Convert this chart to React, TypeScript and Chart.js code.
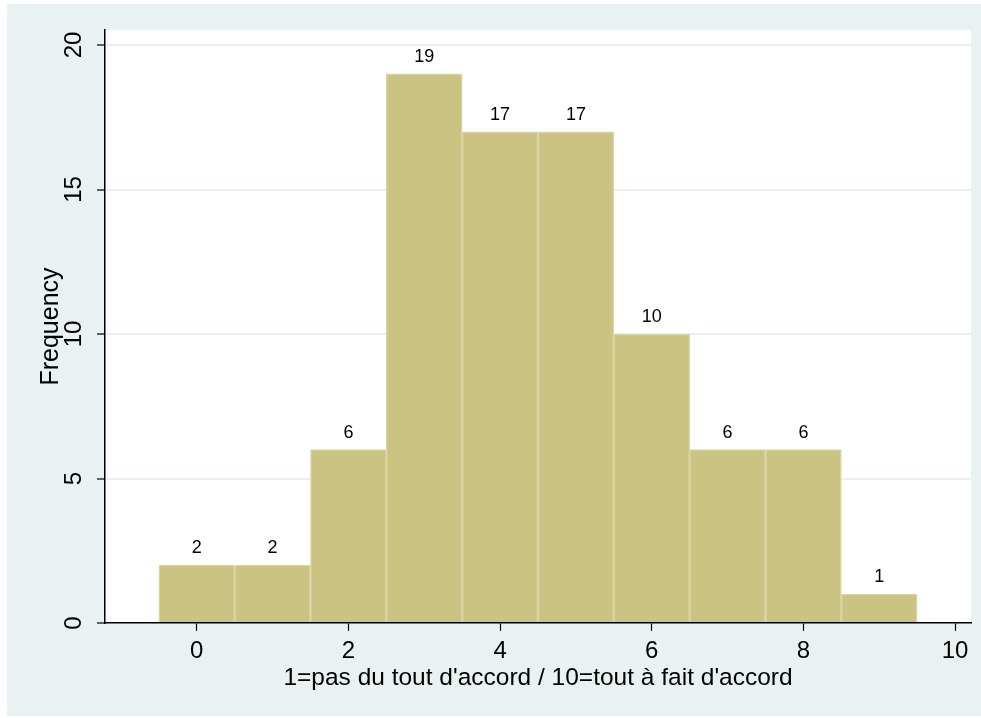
import React, { useEffect, useRef } from "react";
import { Chart, registerables } from "chart.js";

Chart.register(...registerables);

const binCenters = [0, 1, 2, 3, 4, 5, 6, 7, 8, 9];
const frequencies = [2, 2, 6, 19, 17, 17, 10, 6, 6, 1];
const xTickValues = [0, 2, 4, 6, 8, 10];
const yTickValues = [0, 5, 10, 15, 20];
const xTitle = "1=pas du tout d'accord / 10=tout à fait d'accord";
const yTitle = "Frequency";

const FONT = "'Liberation Sans', Arial, Helvetica, sans-serif";
const PANEL = "#EAF1F3";

const bgPlugin = {
  id: "bgPlugin",
  beforeDraw(chart: any) {
    const { ctx, chartArea } = chart;
    ctx.save();
    ctx.fillStyle = "#ffffff";
    ctx.fillRect(0, 0, chart.width, chart.height);
    ctx.fillStyle = PANEL;
    ctx.fillRect(7, 4, chart.width - 7, 712);
    ctx.fillStyle = "#ffffff";
    ctx.fillRect(chartArea.left, chartArea.top, chartArea.right - chartArea.left, chartArea.bottom - chartArea.top);
    ctx.restore();
  },
};

const labelPlugin = {
  id: "labelPlugin",
  afterDatasetsDraw(chart: any) {
    const { ctx } = chart;
    const meta = chart.getDatasetMeta(0);
    ctx.save();
    ctx.fillStyle = "#000";
    ctx.font = `18px ${FONT}`;
    ctx.textAlign = "center";
    ctx.textBaseline = "alphabetic";
    meta.data.forEach((bar: any, i: number) => {
      ctx.fillText(String(frequencies[i]), bar.x, bar.y - 12);
    });
    ctx.restore();
  },
};

export default function App() {
  const ref = useRef<HTMLCanvasElement | null>(null);
  useEffect(() => {
    if (!ref.current) return;
    const chart = new Chart(ref.current, {
      type: "bar",
      data: {
        datasets: [
          {
            data: binCenters.map((x, i) => ({ x, y: frequencies[i] })),
            backgroundColor: "#CBC382",
            borderColor: "#DAD4A2",
            borderWidth: 1.5,
            barPercentage: 1,
            categoryPercentage: 1,
          } as any,
        ],
      },
      options: {
        animation: false,
        responsive: false,
        devicePixelRatio: 1,
        layout: { padding: { left: 7, top: 30, right: 10, bottom: 0 } },
        plugins: { legend: { display: false }, tooltip: { enabled: false }, title: { display: false } },
        scales: {
          x: {
            type: "linear",
            min: -1.21,
            max: 10.21,
            offset: false,
            afterBuildTicks: (s: any) => {
              s.ticks = xTickValues.map((v) => ({ value: v }));
            },
            afterFit: (s: any) => {
              s.height = 95;
            },
            grid: { display: true, drawOnChartArea: false, drawTicks: true, tickLength: 8, tickColor: "#000", tickWidth: 1.2, offset: false },
            border: { display: true, color: "#000", width: 1.5 },
            ticks: { font: { family: FONT, size: 24 }, color: "#000", padding: 6, maxRotation: 0, autoSkip: false },
            title: { display: true, text: xTitle, font: { family: FONT, size: 24.5 }, color: "#000", padding: { top: 0, bottom: 25 } },
          },
          y: {
            type: "linear",
            min: 0,
            max: 20.52,
            afterBuildTicks: (s: any) => {
              s.ticks = yTickValues.map((v) => ({ value: v }));
            },
            afterFit: (s: any) => {
              s.width = 98;
            },
            grid: {
              color: (c: any) => (c.tick && c.tick.value === 0 ? "rgba(0,0,0,0)" : PANEL),
              lineWidth: 2,
              drawTicks: true,
              tickLength: 8,
              tickColor: "#000",
              tickWidth: 1.2,
            },
            border: { display: true, color: "#000", width: 1.5 },
            ticks: { font: { family: FONT, size: 24 }, color: "#000", padding: 9, minRotation: 90, maxRotation: 90, crossAlign: "center", autoSkip: false },
            title: { display: true, text: yTitle, font: { family: FONT, size: 25 }, color: "#000", padding: { top: 29, bottom: 0 } },
          },
        },
      },
      plugins: [bgPlugin, labelPlugin],
    } as any);
    return () => chart.destroy();
  }, []);
  return (
    <div style={{ position: "absolute", left: 0, top: 0, width: 981, height: 718 }}>
      <canvas ref={ref} width={981} height={718} style={{ display: "block" }} />
    </div>
  );
}
